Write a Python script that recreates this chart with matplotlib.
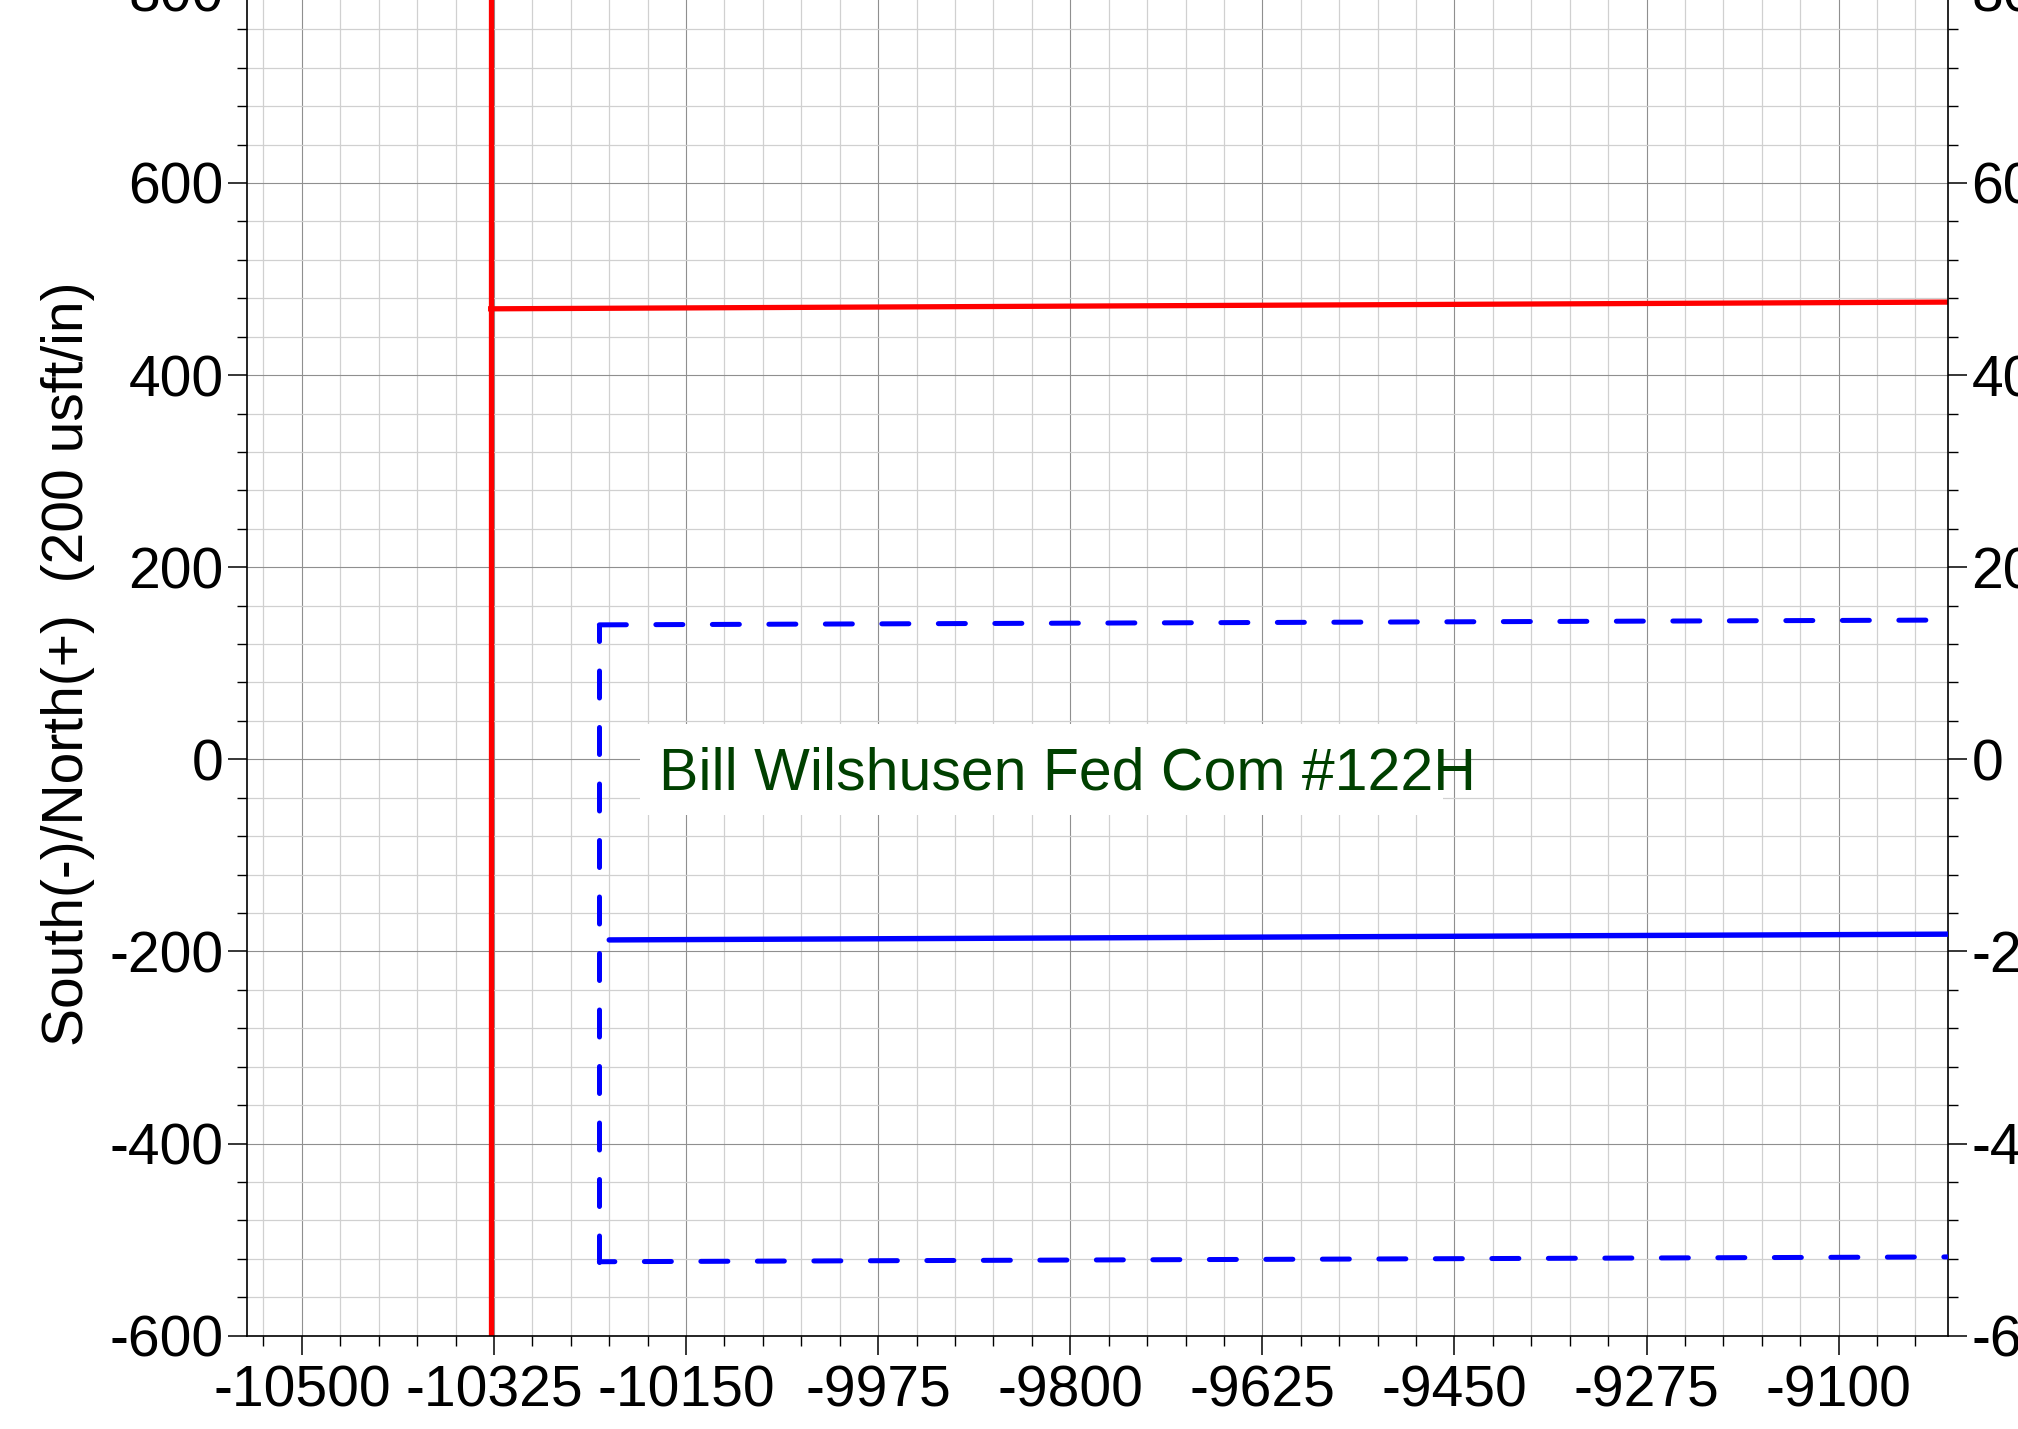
import matplotlib.pyplot as plt
from matplotlib.ticker import MultipleLocator

plt.rcParams['font.family'] = ['Liberation Sans', 'DejaVu Sans']
plt.rcParams['axes.unicode_minus'] = False

# lease line (red): vertical west line and the northern line
lease_vert_x = [-10328, -10328]
lease_vert_y = [-600, 800]
lease_north_x = [-10328, -9000]
lease_north_y = [469, 476]

# wellbore (solid blue)
well_x = [-10220, -9000]
well_y = [-188, -182]

# setback box (dashed blue): top-right, top-left, bottom-left, bottom-right
setback_x = [-9000, -10229, -10229, -9000]
setback_y = [145, 140, -523, -518]

# well name label and the white patch behind it
well_name = 'Bill Wilshusen Fed Com #122H'
label_x = -10175
label_y = -31
label_box_x = [-10192, -9460]
label_box_y = [-58, 37]

x_limits = (-10550, -9000)
y_limits = (-600, 800)

fig = plt.figure(figsize=(20.18, 14.29), dpi=100)
ax = fig.add_axes([0.1224, 0.0653, 0.8431, 0.9411])

ax.set_xlim(*x_limits)
ax.set_ylim(*y_limits)

# ticks and grid
ax.xaxis.set_major_locator(MultipleLocator(175))
ax.xaxis.set_minor_locator(MultipleLocator(35))
ax.yaxis.set_major_locator(MultipleLocator(200))
ax.yaxis.set_minor_locator(MultipleLocator(40))
ax.set_axisbelow(True)
ax.grid(which='major', color='#8f8f8f', linewidth=0.8)
ax.grid(which='minor', color='#d0d0d0', linewidth=0.9)

ax.tick_params(axis='both', which='major', length=13.7, width=1.1, labelsize=41, pad=3)
ax.tick_params(axis='both', which='minor', length=7.2, width=1.0)
ax.tick_params(axis='y', which='both', left=True, right=True, labelleft=True, labelright=True)
ax.tick_params(axis='x', which='major', pad=7)
for side in ['left', 'right', 'bottom', 'top']:
    ax.spines[side].set_linewidth(1.2)

# white patch behind the label (hides the grid)
ax.fill_between(label_box_x, label_box_y[0], label_box_y[1], color='white', linewidth=0, zorder=1.5)

# lease lines
ax.plot(lease_vert_x, lease_vert_y, color='#ff0000', linewidth=3.8, zorder=2)
ax.plot(lease_north_x, lease_north_y, color='#ff0000', linewidth=3.8, zorder=2)

# wellbore
ax.plot(well_x, well_y, color='#0000ff', linewidth=3.9, solid_capstyle='round', zorder=3)

# setback box, each side starts its own dash pattern at the west corners
dash = (5.4, 5.9)
ax.plot([setback_x[1], setback_x[0]], [setback_y[1], setback_y[0]], color='#0000ff',
        linewidth=3.6, linestyle=(0, dash), dash_capstyle='round', zorder=3)
ax.plot([setback_x[1], setback_x[2]], [setback_y[1], setback_y[2]], color='#0000ff',
        linewidth=3.6, linestyle=(2.2, dash), dash_capstyle='round', zorder=3)
ax.plot([setback_x[2], setback_x[3]], [setback_y[2], setback_y[3]], color='#0000ff',
        linewidth=3.6, linestyle=(2.3, dash), dash_capstyle='round', zorder=3)

ax.text(label_x, label_y, well_name, color='#004000', fontsize=42.5,
        ha='left', va='baseline', zorder=4)

ax.set_ylabel('South(-)/North(+)  (200 usft/in)', fontsize=41)
ax.yaxis.set_label_coords(-0.105, 0.5)
ax.yaxis.label.set_va('center')

fig.savefig('out.png', dpi=100)
